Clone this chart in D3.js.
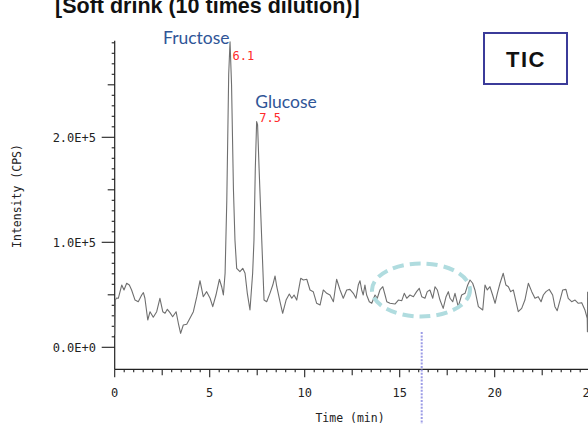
<!DOCTYPE html>
<html>
<head>
<meta charset="utf-8">
<script src="https://cdn.jsdelivr.net/npm/d3@7"></script>
<style>
  html, body { margin: 0; padding: 0; background: #fff; }
  svg { display: block; }
</style>
</head>
<body>
<div id="chart"></div>
<script>
// retention time (min)
var times = [0.00, 0.03, 0.10, 0.19, 0.37, 0.49, 0.63, 0.77, 0.89, 1.07, 1.24, 1.42, 1.51, 1.59, 1.74, 1.86,
  2.03, 2.21, 2.38, 2.53, 2.65, 2.77, 2.91, 3.05, 3.23, 3.35, 3.47, 3.61, 3.79, 3.96, 4.14, 4.32, 4.49, 4.66,
  4.84, 5.02, 5.16, 5.33, 5.51, 5.63, 5.72, 5.81, 5.90, 6.00, 6.07, 6.15, 6.25, 6.33, 6.42, 6.59, 6.74, 6.86,
  6.98, 7.12, 7.26, 7.33, 7.40, 7.47, 7.52, 7.60, 7.74, 7.86, 8.00, 8.17, 8.32, 8.44, 8.53, 8.70, 8.84, 9.02,
  9.19, 9.32, 9.44, 9.58, 9.79, 9.93, 10.11, 10.28, 10.45, 10.63, 10.81, 10.98, 11.16, 11.33, 11.51, 11.68,
  11.86, 12.03, 12.21, 12.38, 12.56, 12.70, 12.82, 12.91, 13.00, 13.08, 13.17, 13.26, 13.40, 13.53, 13.70,
  13.82, 13.96, 14.11, 14.23, 14.32, 14.49, 14.75, 14.93, 15.11, 15.24, 15.37, 15.54, 15.72, 15.89, 16.03,
  16.16, 16.33, 16.45, 16.59, 16.74, 16.86, 16.98, 17.12, 17.29, 17.44, 17.56, 17.65, 17.79, 17.91, 18.08,
  18.26, 18.44, 18.58, 18.70, 18.84, 18.96, 19.14, 19.37, 19.49, 19.61, 19.75, 19.89, 20.02, 20.14, 20.28,
  20.45, 20.59, 20.72, 20.84, 20.98, 21.12, 21.24, 21.42, 21.59, 21.77, 21.95, 22.12, 22.29, 22.44, 22.56,
  22.70, 22.87, 23.05, 23.17, 23.29, 23.44, 23.58, 23.75, 23.87, 24.05, 24.23, 24.40, 24.58, 24.75, 24.87,
  24.88, 24.89];

// TIC intensity (CPS)
var intensity = [12000, 45000, 47000, 46700, 59300, 54600, 61000, 59300, 54600, 45000, 43400, 49800, 52000,
  46700, 26000, 33900, 28600, 33900, 46700, 33900, 32400, 36200, 33000, 29100, 33900, 22900, 13300, 21200,
  21900, 27600, 33900, 48200, 63400, 48200, 53000, 46700, 38700, 49800, 64800, 57700, 49800, 70500, 140000,
  260000, 291000, 250000, 150000, 102000, 75200, 72000, 75200, 70500, 51400, 35500, 70500, 102000, 170000,
  215000, 212000, 170000, 102000, 45000, 43400, 51400, 59300, 67900, 57700, 43400, 32400, 45000, 50800, 46700,
  49800, 45000, 65700, 64100, 64800, 54600, 53000, 41900, 40300, 54600, 51400, 49800, 43400, 64800, 54600,
  46700, 54600, 55200, 51400, 46700, 59300, 63400, 54600, 49800, 59300, 49800, 43400, 41900, 49800, 46700,
  54600, 57700, 49800, 43400, 41900, 41200, 45000, 44400, 51400, 46700, 49800, 48200, 53000, 56200, 48200,
  46700, 53000, 54600, 46700, 57700, 54600, 45000, 37100, 48200, 53000, 46700, 43400, 51400, 38700, 49800,
  51400, 59300, 64100, 61000, 54600, 38700, 35500, 59300, 54600, 57700, 49800, 41900, 51400, 61000, 70500,
  59300, 57700, 53000, 54600, 43400, 33900, 37100, 45000, 61000, 53000, 46700, 48200, 43400, 49800, 53000,
  55200, 49800, 38700, 34900, 45000, 54600, 55200, 46700, 43400, 45000, 41900, 42500, 35500, 27600, 14900,
  53000];

// peak annotations
var peakNames = ["Fructose", "Glucose"];
var peakTimes = [6.1, 7.5];
var peakTops = [291000, 215000];

// axis ticks
var xTicks = [0, 5, 10, 15, 20, 25];
var yTicks = [0, 100000, 200000];
var yTickLabels = ["0.0E+0", "1.0E+5", "2.0E+5"];

var w = 588;
var h = 424;

var svg = d3.select("#chart")
  .append("svg")
  .attr("width", w)
  .attr("height", h);

// scales
var x = d3.scaleLinear()
  .domain([0, 25])
  .range([114.7, 589.7]);

var y = d3.scaleLinear()
  .domain([-20950, 292000])
  .range([369.3, 40.7]);

var monoFont = "'DejaVu Sans Mono', monospace";

// title (clipped at the top)
svg.append("text")
  .attr("x", 55)
  .attr("y", 13)
  .attr("font-family", "'Liberation Sans', Arial, sans-serif")
  .attr("font-weight", "bold")
  .attr("font-size", 21.5)
  .attr("fill", "#111")
  .text("[Soft drink (10 times dilution)]");

// y axis
var yAxis = svg.append("g");
yAxis.append("line")
  .attr("x1", x(0)).attr("x2", x(0))
  .attr("y1", y.range()[1]).attr("y2", y.range()[0])
  .attr("stroke", "#222")
  .attr("stroke-width", 1.2);

var yMinor = d3.range(0, 290001, 10000);
yAxis.selectAll(".ytick")
  .data(yMinor)
  .enter().append("line")
  .attr("x1", x(0))
  .attr("x2", function(d) {
    if (d % 100000 === 0) return x(0) - 13;
    if (d % 50000 === 0) return x(0) - 7;
    return x(0) - 3;
  })
  .attr("y1", function(d) { return y(d); })
  .attr("y2", function(d) { return y(d); })
  .attr("stroke", "#222")
  .attr("stroke-width", 1.1);

yAxis.selectAll(".ylab")
  .data(yTicks)
  .enter().append("text")
  .attr("x", 96)
  .attr("y", function(d) { return y(d) + 4.5; })
  .attr("text-anchor", "end")
  .attr("font-family", monoFont)
  .attr("font-size", 12)
  .attr("fill", "#222")
  .text(function(d, i) { return yTickLabels[i]; });

svg.append("text")
  .attr("transform", "translate(21,196) rotate(-90)")
  .attr("text-anchor", "middle")
  .attr("font-family", monoFont)
  .attr("font-size", 11.5)
  .attr("fill", "#222")
  .text("Intensity (CPS)");

// x axis
var xAxis = svg.append("g");
xAxis.append("line")
  .attr("x1", x(0)).attr("x2", w)
  .attr("y1", y.range()[0]).attr("y2", y.range()[0])
  .attr("stroke", "#222")
  .attr("stroke-width", 1.2);

var xMinor = d3.range(0, 25.01, 0.5);
xAxis.selectAll(".xtick")
  .data(xMinor)
  .enter().append("line")
  .attr("x1", function(d) { return x(d); })
  .attr("x2", function(d) { return x(d); })
  .attr("y1", y.range()[0])
  .attr("y2", function(d) {
    if (d % 5 === 0) return y.range()[0] + 8;
    if (d % 2.5 === 0) return y.range()[0] + 6;
    return y.range()[0] + 3;
  })
  .attr("stroke", "#222")
  .attr("stroke-width", 1.1);

xAxis.selectAll(".xlab")
  .data(xTicks)
  .enter().append("text")
  .attr("x", function(d) { return x(d); })
  .attr("y", 396.5)
  .attr("text-anchor", "middle")
  .attr("font-family", monoFont)
  .attr("font-size", 12)
  .attr("fill", "#222")
  .text(function(d) { return d; });

svg.append("text")
  .attr("x", 350)
  .attr("y", 422)
  .attr("text-anchor", "middle")
  .attr("font-family", monoFont)
  .attr("font-size", 11.5)
  .attr("fill", "#222")
  .text("Time (min)");

// chromatogram trace
var line = d3.line()
  .x(function(d, i) { return x(times[i]); })
  .y(function(d) { return y(d); });

svg.append("path")
  .datum(intensity)
  .attr("d", line)
  .attr("fill", "none")
  .attr("stroke", "#6f6f6f")
  .attr("stroke-width", 1.1)
  .attr("stroke-linejoin", "round");

// peak names and retention times
svg.selectAll(".pname")
  .data(peakNames)
  .enter().append("text")
  .attr("x", function(d, i) { return i === 0 ? x(peakTimes[i]) - 1 : x(peakTimes[i]) - 2; })
  .attr("y", function(d, i) { return i === 0 ? y(peakTops[i]) + 2 : y(peakTops[i]) - 14; })
  .attr("text-anchor", function(d, i) { return i === 0 ? "end" : "start"; })
  .attr("font-family", "Lato, 'Open Sans', sans-serif")
  .attr("font-size", 17.5)
  .attr("fill", "#2f5597")
  .text(function(d) { return d; });

svg.selectAll(".ptime")
  .data(peakTimes)
  .enter().append("text")
  .attr("x", function(d) { return x(d) + 2; })
  .attr("y", function(d, i) { return y(peakTops[i]) + (i === 0 ? 18.5 : 0.5); })
  .attr("font-family", monoFont)
  .attr("font-size", 12)
  .attr("fill", "#ff2a2a")
  .text(function(d) { return d3.format(".1f")(d); });

// TIC box
svg.append("rect")
  .attr("x", 484)
  .attr("y", 33)
  .attr("width", 83)
  .attr("height", 51)
  .attr("fill", "#fff")
  .attr("stroke", "#3b3b99")
  .attr("stroke-width", 2);

svg.append("text")
  .attr("x", 526)
  .attr("y", 66.5)
  .attr("text-anchor", "middle")
  .attr("font-family", "'Liberation Sans', Arial, sans-serif")
  .attr("font-weight", "bold")
  .attr("font-size", 22)
  .attr("letter-spacing", 1.5)
  .attr("fill", "#111")
  .text("TIC");

// highlighted region and pointer
svg.append("ellipse")
  .attr("cx", 421)
  .attr("cy", 290)
  .attr("rx", 49)
  .attr("ry", 26.5)
  .attr("fill", "none")
  .attr("stroke", "#b0dcdf")
  .attr("stroke-width", 4)
  .attr("stroke-dasharray", "11 6");

svg.append("line")
  .attr("x1", 421.7).attr("x2", 421.7)
  .attr("y1", 332).attr("y2", h)
  .attr("stroke", "#9c9ce6")
  .attr("stroke-width", 2)
  .attr("stroke-dasharray", "2 1.4");
</script>
</body>
</html>
